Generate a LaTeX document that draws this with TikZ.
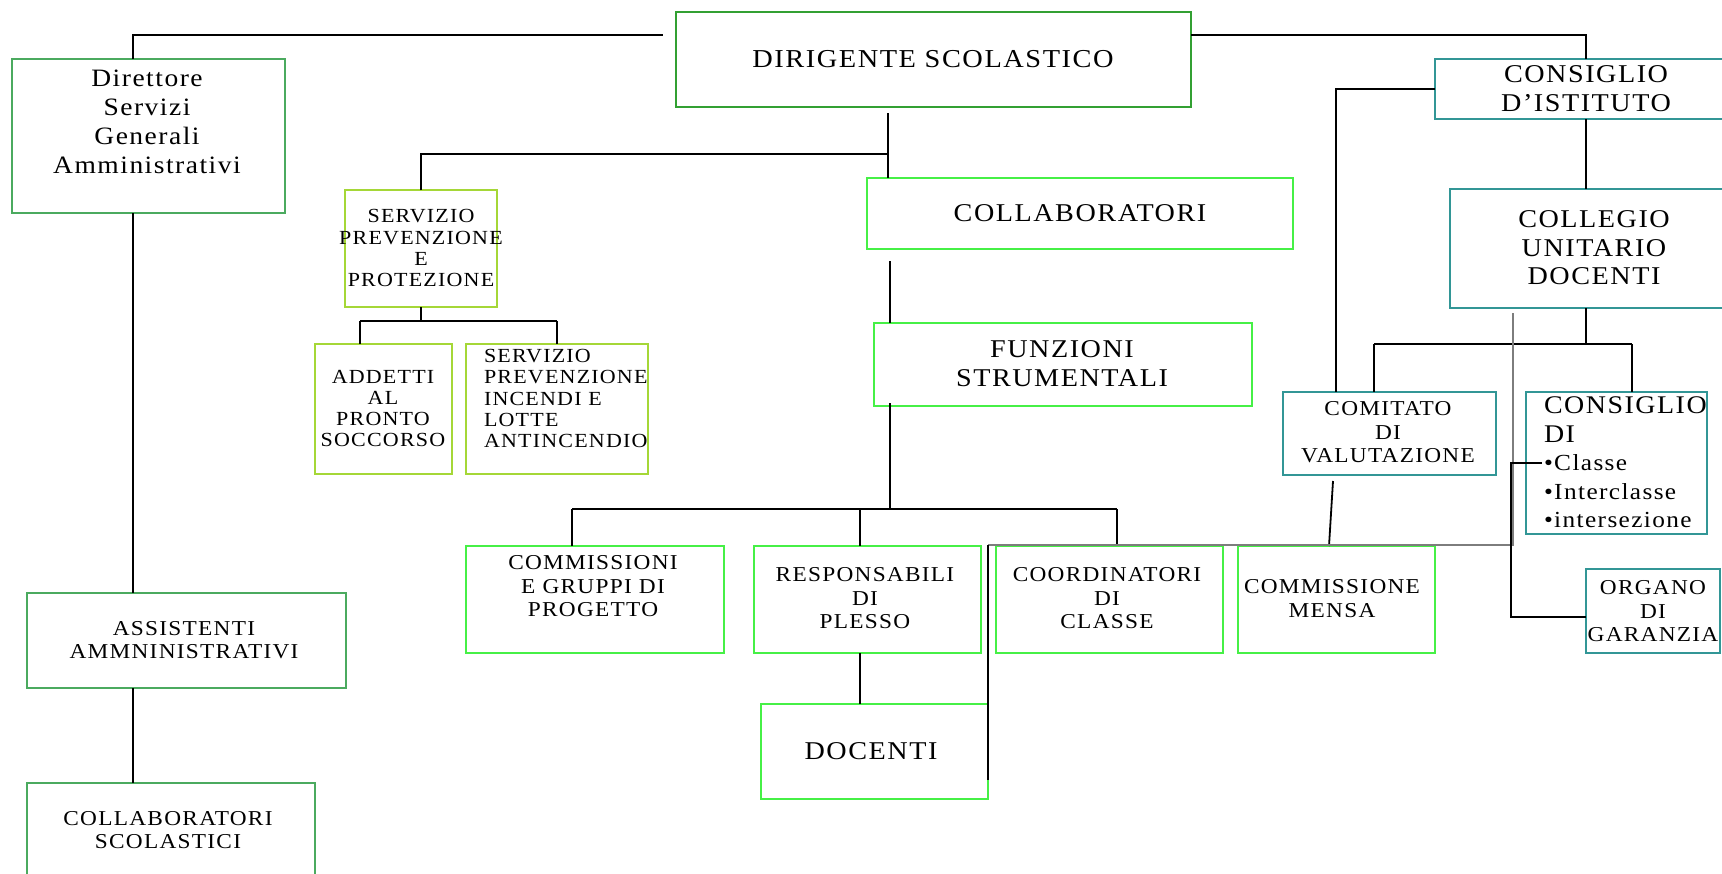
\documentclass[tikz,border=0pt]{standalone}
\usepackage{fontspec}
\setmainfont{Liberation Serif}[FakeStretch=1.1,LetterSpace=6]
\usetikzlibrary{fit}
\definecolor{dirgreen}{RGB}{50,160,50}
\definecolor{midgreen}{RGB}{75,170,95}
\definecolor{brightgreen}{RGB}{70,240,70}
\definecolor{yelgreen}{RGB}{165,215,55}
\definecolor{tealc}{RGB}{50,150,150}
\definecolor{grayl}{RGB}{125,125,125}
\newcommand\fsDir{\fontsize{12.9}{16}\selectfont}
\newcommand\fsBig{\fontsize{12.8}{14.5}\selectfont}
\newcommand\fsCol{\fontsize{12.8}{14.25}\selectfont}
\newcommand\fsSm{\fontsize{10.6}{11.75}\selectfont}
\newcommand\fsSpp{\fontsize{10}{10.65}\selectfont}
\newcommand\fsCdc{\fontsize{11.5}{14.25}\selectfont}
\newcommand\fsCdcBig{\fontsize{12.7}{14.25}\selectfont}
\newcommand\fsDsga{\fontsize{12.5}{14.35}\selectfont}
\newcommand\mkbox[6]{\coordinate (#1-a) at (#3,#4); \coordinate (#1-b) at (#5,#6);
  \node[box, draw=#2, fit=(#1-a)(#1-b)] (#1) {};}
\tikzset{
  box/.style={line width=0.9pt, inner sep=0pt, outer sep=0pt},
  lbl/.style={inner sep=0pt, outer sep=0pt, align=center, text=black},
  conn/.style={draw=black, line width=0.9pt},
  grayline/.style={draw=grayl, line width=1.3pt}
}
\begin{document}
\begin{tikzpicture}[x=0.5pt,y=-0.5pt]
\useasboundingbox (0,0) rectangle (1722,873);
\clip (0,0) rectangle (1722,873);
% boxes
\mkbox{dir}{dirgreen}{676}{12}{1191}{107}
\mkbox{dsga}{midgreen}{12}{59}{285}{213}
\mkbox{spp}{yelgreen}{345}{190}{497}{307}
\mkbox{coll}{brightgreen}{867}{178}{1293}{249}
\mkbox{funz}{brightgreen}{874}{323}{1252}{406}
\mkbox{cdi}{tealc}{1435}{59}{1740}{119}
\mkbox{cud}{tealc}{1450}{189}{1740}{308}
\mkbox{add}{yelgreen}{315}{344}{452}{474}
\mkbox{inc}{yelgreen}{466}{344}{648}{474}
\mkbox{comv}{tealc}{1283}{392}{1496}{475}
\mkbox{cdc}{tealc}{1526}{392}{1707}{534}
\mkbox{cgp}{brightgreen}{466}{546}{724}{653}
\mkbox{resp}{brightgreen}{754}{546}{981}{653}
\mkbox{coord}{brightgreen}{996}{546}{1223}{653}
\mkbox{mensa}{brightgreen}{1238}{546}{1435}{653}
\mkbox{org}{tealc}{1586}{569}{1720}{653}
\mkbox{doc}{brightgreen}{761}{704}{988}{799}
\mkbox{ass}{midgreen}{27}{593}{346}{688}
\mkbox{cs}{midgreen}{27}{783}{315}{885}
% labels
\node[lbl,font=\fsDir] (dir-t) at (933,59.2) {DIRIGENTE SCOLASTICO};
\node[lbl,font=\fsDsga] (dsga-t) at (147,121.8) {Direttore\\Servizi\\Generali\\Amministrativi};
\node[lbl,font=\fsBig] (coll-t) at (1080,212.7) {COLLABORATORI};
\node[lbl,font=\fsSpp] (spp-t) at (421,248.3) {SERVIZIO\\PREVENZIONE\\E\\PROTEZIONE};
\node[lbl,font=\fsBig] (funz-t) at (1062,364) {FUNZIONI\\STRUMENTALI};
\node[lbl,font=\fsBig] (cdi-t) at (1586,89) {CONSIGLIO\\D’ISTITUTO};
\node[lbl,font=\fsCol] (cud-t) at (1594,248) {COLLEGIO\\UNITARIO\\DOCENTI};
\node[lbl,font=\fsSpp] (add-t) at (383,408.5) {ADDETTI\\AL\\PRONTO\\SOCCORSO};
\node[lbl,font=\fsSpp,align=left,anchor=west] (inc-t) at (484,398.5) {SERVIZIO\\PREVENZIONE\\INCENDI E\\LOTTE\\ANTINCENDIO};
\node[lbl,font=\fsSm] (comv-t) at (1388,432.5) {COMITATO\\DI\\VALUTAZIONE};
\node[lbl,font=\fsCdc,align=left,anchor=west] (cdc-t) at (1544,462.5) {{\fsCdcBig CONSIGLIO}\\{\fsCdcBig DI}\\•Classe\\•Interclasse\\•intersezione};
\node[lbl,font=\fsSm] (cgp-t) at (593,586.5) {COMMISSIONI\\E GRUPPI DI\\PROGETTO};
\node[lbl,font=\fsSm] (resp-t) at (865,598.5) {RESPONSABILI\\DI\\PLESSO};
\node[lbl,font=\fsSm] (coord-t) at (1107,598.5) {COORDINATORI\\DI\\CLASSE};
\node[lbl,font=\fsSm] (mensa-t) at (1332,598.5) {COMMISSIONE\\MENSA};
\node[lbl,font=\fsSm] (org-t) at (1653,611.5) {ORGANO\\DI\\GARANZIA};
\node[lbl,font=\fsBig] (doc-t) at (871,751.5) {DOCENTI};
\node[lbl,font=\fsSm] (ass-t) at (184,640) {ASSISTENTI\\AMMNINISTRATIVI};
\node[lbl,font=\fsSm] (cs-t) at (168,830) {COLLABORATORI\\SCOLASTICI};
% helper coordinates
\coordinate (spineL) at (133,0);
\coordinate (spineR) at (1586,0);
\coordinate (topL) at (663,35);
\coordinate (dirstem) at (888,113);
\coordinate (forkA) at (888,154);
\coordinate (collstem) at (890,261);
\coordinate (funzstem) at (890,403);
\coordinate (bB1) at (572,509);
\coordinate (bB2) at (860,509);
\coordinate (bB3) at (1117,509);
\coordinate (bS1) at (360,321);
\coordinate (bS2) at (557,321);
\coordinate (cdiL) at (1336,0);
\coordinate (bR1) at (1374,344);
\coordinate (bR2) at (1632,344);
\coordinate (cvs) at (1333,481);
\coordinate (cve) at (1329,0);
\coordinate (g1) at (1513,313);
\coordinate (g2) at (1513,545);
\coordinate (g3) at (988,545);
\coordinate (g4) at (988,780);
\coordinate (cl) at (1542,463);
\coordinate (clx) at (1511,0);
\coordinate (oj) at (1586,617);
% connectors
\draw[conn] (dsga.north -| spineL) |- (topL);
\draw[conn] (dsga.south -| spineL) -- (ass.north -| spineL);
\draw[conn] (ass.south -| spineL) -- (cs.north -| spineL);
\draw[conn] (dir.east |- topL) -| (cdi.north -| spineR);
\draw[conn] (dirstem) -- (dirstem |- coll.north);
\draw[conn] (spp.north) |- (forkA);
\draw[conn] (collstem) -- (collstem |- funz.north);
\draw[conn] (funzstem) -- (bB1 -| funzstem);
\draw[conn] (bB1) -- (bB3);
\draw[conn] (bB1) -- (bB1 |- cgp.north);
\draw[conn] (bB2) -- (bB2 |- resp.north);
\draw[conn] (bB3) -- (bB3 |- coord.north);
\draw[conn] (bB2 |- resp.south) -- (bB2 |- doc.north);
\draw[conn] (spp.south) -- (spp.south |- bS1);
\draw[conn] (bS1) -- (bS2);
\draw[conn] (bS1) -- (bS1 |- add.north);
\draw[conn] (bS2) -- (bS2 |- inc.north);
\draw[conn] (cdi.west) -| (cdiL |- comv.north);
\draw[conn] (cdi.south -| spineR) -- (cud.north -| spineR);
\draw[conn] (cud.south -| spineR) -- (spineR |- bR1);
\draw[conn] (bR1) -- (bR2);
\draw[conn] (bR1) -- (bR1 |- comv.north);
\draw[conn] (bR2) -- (bR2 |- cdc.north);
\draw[conn] (cvs) -- (cve |- mensa.north);
\draw[grayline] (g1) -- (g2) -- (g3);
\draw[conn] (g3) -- (g4);
\draw[conn] (cl) -| (clx |- oj) -- (oj);
\end{tikzpicture}
\end{document}
